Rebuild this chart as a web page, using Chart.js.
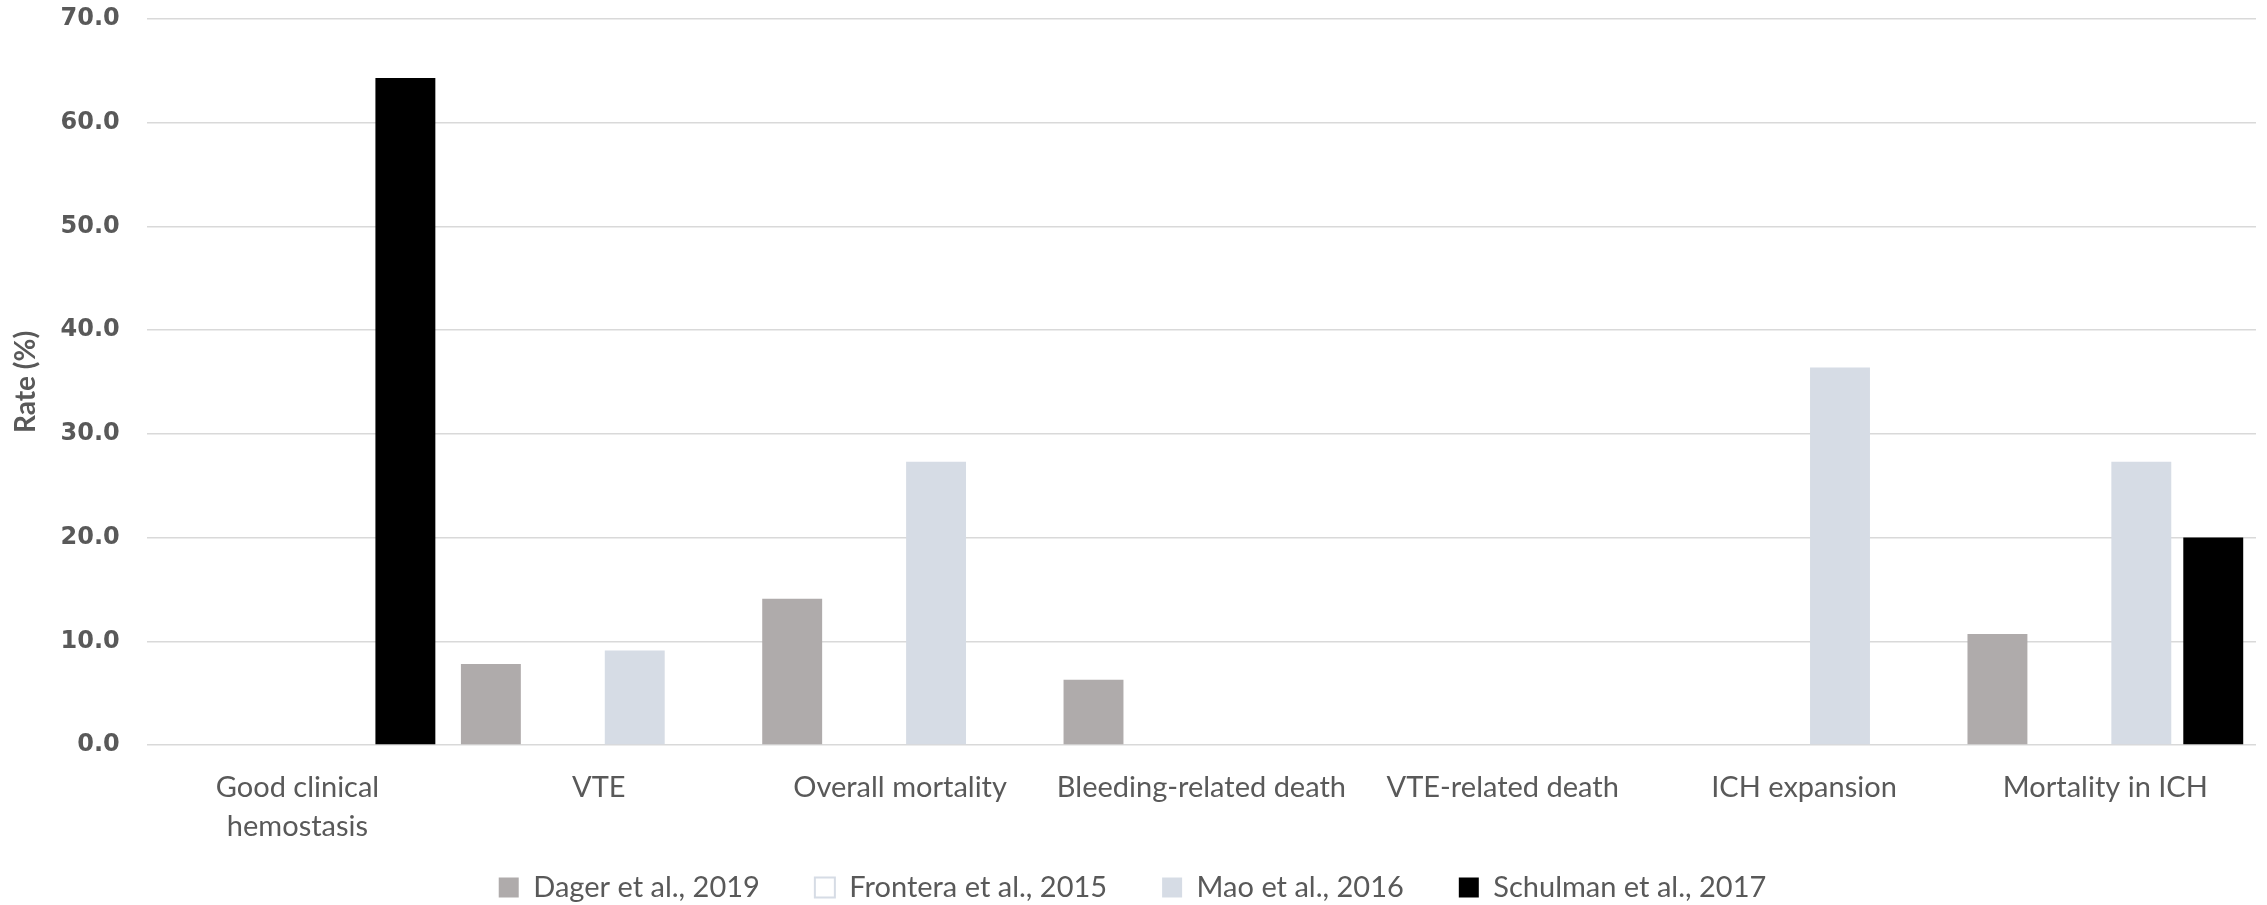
<!DOCTYPE html>
<html>
<head>
<meta charset="utf-8">
<script src="https://cdn.jsdelivr.net/npm/chart.js@4"></script>
<style>
  html, body { margin: 0; padding: 0; background: #ffffff; }
  #wrap { width: 2267px; height: 905px; position: relative; }
</style>
</head>
<body>
<div id="wrap"><canvas id="chart"></canvas></div>
<script>
// categories and values
const categories = [
  ["Good clinical", "hemostasis"],
  "VTE",
  "Overall mortality",
  "Bleeding-related death",
  "VTE-related death",
  "ICH expansion",
  "Mortality in ICH"
];
const dager = [null, 7.8, 14.1, 6.3, null, null, 10.7];
const frontera = [null, null, null, null, null, null, null];
const mao = [null, 9.1, 27.3, null, null, 36.4, 27.3];
const schulman = [64.3, null, null, null, null, null, 20.0];
const yTicks = [0, 10, 20, 30, 40, 50, 60, 70];

const textGrey = "#595959";

// x axis is made short so the legend sits close under it,
// so let its labels draw past its own box (no clipping)
const labelRoom = {
  id: "labelRoom",
  afterLayout(chart) {
    chart.scales.x.bottom = chart.height;
  }
};

const ctx = document.getElementById("chart").getContext("2d");
const chart = new Chart(ctx, {
  type: "bar",
  data: {
    labels: categories,
    datasets: [
      { label: "Dager et al., 2019", data: dager, backgroundColor: "#AFABAB", borderWidth: 0 },
      { label: "Frontera et al., 2015", data: frontera, backgroundColor: "#FFFFFF", borderColor: "#D6DCE5", borderWidth: 2 },
      { label: "Mao et al., 2016", data: mao, backgroundColor: "#D6DCE5", borderWidth: 0 },
      { label: "Schulman et al., 2017", data: schulman, backgroundColor: "#000000", borderWidth: 0 }
    ]
  },
  plugins: [labelRoom],
  options: {
    responsive: true,
    maintainAspectRatio: false,
    animation: false,
    devicePixelRatio: 1,
    layout: { padding: { top: 0, right: 11, left: 9, bottom: -7 } },
    datasets: { bar: { categoryPercentage: 0.955, barPercentage: 0.833 } },
    plugins: {
      tooltip: { enabled: false },
      legend: {
        position: "bottom",
        labels: {
          color: textGrey,
          font: { family: "Lato", size: 29 },
          boxWidth: 20,
          boxHeight: 20,
          padding: 55
        }
      }
    },
    scales: {
      x: {
        grid: { display: false },
        border: { display: false },
        ticks: {
          color: textGrey,
          font: { family: "Lato", size: 29, lineHeight: 1.35 },
          maxRotation: 0,
          minRotation: 0,
          autoSkip: false,
          padding: 15
        },
        afterFit: (axis) => { axis.height = 73; }
      },
      y: {
        min: 0,
        max: 70,
        afterBuildTicks: (axis) => { axis.ticks = yTicks.map(v => ({ value: v })); },
        afterFit: (axis) => { axis.paddingTop = 19; },
        grid: { color: "#D9D9D9", lineWidth: 1.5, drawTicks: false },
        border: { display: false },
        ticks: {
          color: textGrey,
          font: { family: "DejaVu Sans", size: 24, weight: "bold" },
          padding: 27,
          callback: (v) => Number(v).toFixed(1)
        },
        title: {
          display: true,
          text: "Rate (%)",
          color: textGrey,
          font: { family: "Lato", size: 28, weight: "bold" },
          padding: { top: 0, bottom: -9 }
        }
      }
    }
  }
});
</script>
</body>
</html>
